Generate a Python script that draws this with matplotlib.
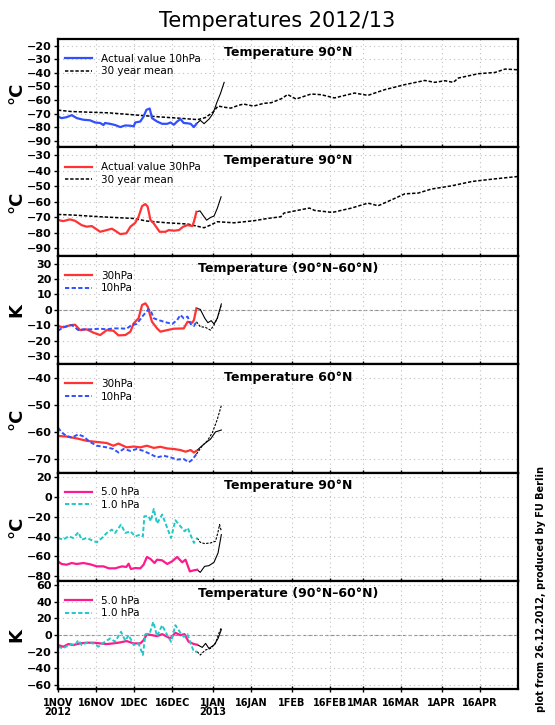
"""
Stratospheric temperatures winter 2012/13, six stacked panels.
"""
import matplotlib
matplotlib.use('Agg')
import matplotlib.pyplot as plt

# x axis: days since 1 Nov 2012
tick_days = [0, 15, 30, 45, 61, 76, 92, 107, 120, 135, 151, 166]
tick_labels = ['1NOV\n2012', '16NOV', '1DEC', '16DEC', '1JAN\n2013', '16JAN',
               '1FEB', '16FEB', '1MAR', '16MAR', '1APR', '16APR']

# ---- panel 1: 10 hPa, 90N ----
p1_obs_d = [0, 1.4, 3.4, 5.4, 7.4, 10, 12.6, 14.6, 16.6, 17.9, 18.5, 20.5, 22.5, 24.5, 26.5,
            28.5, 29.8, 30.4, 32.4, 33.7, 34.8, 36.1, 37, 39, 41, 43, 44.3, 45.6, 46.9,
            48.2, 49.5, 50.9, 52.2, 53.5, 54.5]
p1_obs_v = [-72.2, -73.4, -72.7, -71.2, -73.4, -74.6, -75, -76.6, -77, -78.5, -77, -77.6,
            -78.5, -80, -78.8, -79, -79.5, -76.6, -75.9, -72.2, -67.3, -66.3, -73.4, -75.9,
            -77.6, -77.6, -76.6, -78.3, -75.9, -74.1, -77, -77.2, -77.6, -80, -77.6]
p1_fc_d = [54.5, 56, 57.5, 59.5, 61, 62.5, 64, 65.4]
p1_fc_v = [-77.6, -75, -77.5, -74, -70, -62, -55, -47]
p1_mean_d = [0, 5, 12, 20, 30, 40, 48, 55, 58, 61, 63, 66, 68, 71, 73, 77, 81, 84, 88, 90.4,
             93.7, 99.6, 103.6, 108.8, 116.7, 122, 128.6, 136.5, 144.4, 148.3, 152.3, 155.6,
             157.6, 165.5, 172, 176, 181]
p1_mean_v = [-67.5, -68.5, -69, -69.5, -71, -72.5, -73.5, -74.5, -73, -69, -64.5, -65.5, -66,
             -64, -63, -64.5, -62.5, -62, -59, -56, -59.3, -55.6, -56.1, -58.5, -54.9, -56.6,
             -52.4, -48.7, -45.6, -47, -45.8, -47, -43.8, -40.6, -39.7, -37.2, -37.7]

# ---- panel 2: 30 hPa, 90N ----
p2_obs_d = [0, 2.1, 4.7, 6.7, 9.3, 11.3, 13.3, 16.6, 19.2, 21.2, 22.5, 24.5, 26.9, 28.5,
            30.4, 31.7, 33.1, 34.4, 35.3, 36.4, 37.7, 40, 42.3, 43.6, 45.6, 47.6, 49.3, 51,
            52.9, 53.5, 54.5]
p2_obs_v = [-71.9, -72.6, -71.5, -72.4, -75.2, -76.2, -75.8, -79.5, -78.4, -77.5, -78.8,
            -81, -80.5, -76.2, -73.7, -69.8, -62.9, -61.6, -63.3, -71.9, -74.1, -79.5,
            -79.5, -78.4, -78.8, -78.4, -76.2, -75.2, -75.8, -73, -66.6]
p2_fc_d = [54.5, 55.9, 57.5, 58.5, 60.1, 61.4, 62.7, 64.2]
p2_fc_v = [-66.6, -66, -69.8, -72, -70.2, -69.4, -64.4, -56.9]
p2_mean_d = [0, 6, 16.6, 29.8, 35, 43, 51, 57.5, 60, 62.7, 69.3, 77, 82.5, 87.7, 89, 97, 99,
             101, 108, 115.5, 122, 126, 131.4, 136.5, 141.8, 147, 155, 163, 171, 181]
p2_mean_v = [-68.3, -68.7, -69.8, -70.9, -72.6, -73.7, -74.5, -76.9, -75.2, -73, -73.7,
             -72.4, -70.9, -69.8, -67.4, -64.8, -64.2, -65.7, -67, -64.2, -61, -62.7,
             -58.8, -55, -54.5, -51.9, -49.8, -47, -45.5, -43.8]

# ---- panel 3: anomaly 90N-60N, 30 and 10 hPa ----
p3_30_d = [0, 2.1, 4.7, 6.7, 8.7, 11.3, 14, 16.6, 19.2, 21.8, 23.8, 26.5, 28.5, 29.8, 31.7,
           33.1, 34.4, 35.3, 37, 39, 40.3, 43, 45.6, 49.5, 51, 52.9, 53.5, 54.5]
p3_30_v = [-10.4, -11.2, -9.9, -9.5, -13, -12.5, -14.7, -16.2, -13, -13.4, -16.4, -16.2, -14,
           -8.6, -5.4, 3.2, 4.3, 2.2, -7.6, -11.9, -14, -13, -12.1, -11.9, -7.6, -8.2, -6.5,
           1.1]
p3_30_fc_d = [54.5, 56, 57.8, 59, 60.3, 61.4, 62.7, 64.3]
p3_30_fc_v = [1.1, 0.4, -5.4, -8.2, -6.9, -9, -5.4, 3.9]
p3_10_d = [0, 2.1, 5.4, 8, 10, 12.6, 16.6, 19.2, 21.8, 24.5, 27, 29, 31, 33.7, 35.6, 36.4,
           37.7, 40.3, 43, 45, 46.9, 48.2, 49.5, 51, 52.2, 53.5, 54.5]
p3_10_v = [-13.4, -11.2, -9.7, -13, -12.5, -12.5, -12.1, -12.5, -11.9, -11.9, -12.1, -9.7,
           -9, -3.2, 0.4, 0, -5.4, -6.9, -8.2, -9, -6.5, -3.2, -5.4, -4.3, -9.1, -10.4, -7.6]
p3_10_fc_d = [54.5, 56, 58, 60, 61.4, 62.7, 64.3]
p3_10_fc_v = [-7.6, -10.8, -11.2, -13, -9.7, -5.4, 3.2]

# ---- panel 4: 60N, 30 and 10 hPa ----
p4_30_d = [0, 3.4, 7.4, 11.3, 15.3, 19.2, 21.8, 23.8, 27, 29.8, 32.4, 35, 37.7, 40.3, 43,
           45.6, 48.2, 50.2, 52.2, 53.5, 54.5]
p4_30_v = [-61.5, -61.7, -62.4, -63.3, -63.7, -64.1, -65.1, -64.3, -65.7, -65.4, -65.7,
           -65.1, -65.9, -65.5, -66.1, -66.3, -66.7, -67.3, -66.7, -67.6, -67]
p4_30_fc_d = [54.5, 56, 58, 60, 62, 64.3]
p4_30_fc_v = [-67, -65.7, -64.1, -62.7, -60, -59.3]
p4_10_d = [0, 1.4, 3.4, 5.4, 8, 10, 12.6, 15.3, 19.2, 21.8, 23.8, 25.8, 28.5, 31, 33.7,
           36.4, 39, 41.7, 44.3, 46.9, 49.5, 51.5, 52.9, 54.5]
p4_10_v = [-58.4, -60.2, -61.5, -62.1, -60.9, -61.7, -63.7, -65.1, -65.7, -66.3, -67.6,
           -66.3, -67, -66.3, -67, -68.2, -69.4, -68.8, -69.4, -70.2, -70, -71.2, -70.2, -68.2]
p4_10_fc_d = [54.5, 56.8, 58.8, 60.8, 62.7, 64.3]
p4_10_fc_v = [-68.2, -65.1, -63.3, -60.2, -55.4, -50.2]

# ---- panel 5: 90N, 5 and 1 hPa ----
p5_5_d = [0, 1.4, 3.4, 5.4, 7.4, 10, 12.6, 15.3, 17.9, 20, 22.5, 25.2, 26.9, 27.8, 28.7,
          30.4, 32.4, 33.7, 35, 36.4, 38, 39, 41, 43, 44.9, 46.9, 48.9, 50.2, 51.9, 53.5,
          54.8]
p5_5_v = [-65.1, -67.8, -68.5, -66.8, -67.8, -66.8, -68.1, -70.2, -70.2, -72.2, -72.2,
          -70.2, -70.8, -67.5, -72.9, -71.9, -72.2, -68.5, -60.7, -62.7, -66.8, -63.4,
          -64.1, -67.8, -65.1, -60.7, -66.1, -63.4, -75.3, -74.2, -73.6]
p5_5_fc_d = [54.8, 56, 57.7, 59.4, 61.4, 63, 64.3]
p5_5_fc_v = [-73.6, -76.3, -70.2, -69.5, -66.1, -56.6, -38]
p5_1_d = [0, 2.1, 4.1, 6, 8, 9.3, 11.3, 13.3, 15.3, 17.3, 19.2, 21.2, 22.5, 24.8, 26.5,
          28.5, 30.4, 32.4, 33.4, 34, 35.7, 36.5, 37.7, 39, 41, 43, 44.5, 46.2, 48.2, 49.8,
          51.1, 52.4, 53.5, 54.8]
p5_1_v = [-41.4, -43.1, -39.7, -41.4, -35.6, -43.1, -41.4, -43.7, -45.8, -41.4, -36.3,
          -32.9, -36.3, -27.8, -36.3, -34.6, -39.7, -38, -39.7, -19.3, -19.3, -24.4, -11.9,
          -26.8, -17.6, -31.2, -41.4, -23.4, -29.5, -34.6, -31.2, -39.7, -46.4, -41.4]
p5_1_fc_d = [54.8, 56, 57.7, 60.1, 62, 62.9, 63.6, 64.3]
p5_1_fc_v = [-41.4, -45.8, -47.1, -46.4, -44.7, -36.3, -27.8, -34.6]

# ---- panel 6: anomaly 90N-60N, 5 and 1 hPa ----
p6_5_d = [0, 2.1, 4.1, 6, 8.7, 11.3, 14, 16.6, 19.2, 21.8, 24.5, 27, 29.8, 32.4, 33.7, 35,
          37, 39, 41, 43, 44.2, 46.2, 48.2, 49.8, 51.4, 53.5, 54.8]
p6_5_v = [-11.9, -13.9, -10.7, -11.9, -9.9, -9.1, -9.1, -9.9, -10.7, -9.9, -8.7, -7.1,
          -9.9, -9.9, -6, 1.2, 0, -1.2, 1.2, -2, -4, 2.8, 0, 1.2, -7.9, -10.7, -11.5]
p6_5_fc_d = [54.8, 56.8, 58.1, 59.4, 61.4, 63, 64.3]
p6_5_fc_v = [-11.5, -14.7, -9.9, -15.9, -11.9, -4, 6.7]
p6_1_d = [0, 2.1, 4.7, 6.7, 8, 9.3, 11.3, 14, 15.9, 17.9, 20.5, 22.5, 24.8, 26.5, 27.8,
          29.8, 31.7, 33.4, 34.4, 36.1, 37.5, 39, 41, 43, 44.5, 46.2, 48.2, 49.5, 50.9, 52.2,
          53.5, 54.8]
p6_1_v = [-13.9, -15.9, -10.7, -11.9, -6, -11.9, -9.1, -9.9, -13.9, -9.1, -4, -7.9, 4,
          -6.7, 0, -11.9, -9.9, -23.8, 1.2, 2, 15.9, -1.2, 11.9, 0, -7.9, 11.9, 2.8, -2, 1.2,
          -9.9, -19.8, -19.8]
p6_1_fc_d = [54.8, 56, 58, 60.1, 62, 63.3, 64.3]
p6_1_fc_v = [-19.8, -23.8, -17.9, -15.9, -9.9, 2, 9.1]

blue = '#3050ff'
red = '#ff3333'
pink = '#ff1a8c'
cyan = '#22c8c8'
dash = (0, (2.2, 1.2))

fig, axes = plt.subplots(6, 1, figsize=(5.55, 7.25), dpi=100, sharex=True)
fig.subplots_adjust(left=0.1045, right=0.933, top=0.9462, bottom=0.0492, hspace=0)

panels = [
    dict(title='Temperature 90°N', unit='°C', ylim=(-95, -15), ticks=range(-90, -19, 10), zero=False),
    dict(title='Temperature 90°N', unit='°C', ylim=(-95, -25), ticks=range(-90, -29, 10), zero=False),
    dict(title='Temperature (90°N–60°N)', unit='K', ylim=(-35, 35), ticks=range(-30, 31, 10), zero=True),
    dict(title='Temperature 60°N', unit='°C', ylim=(-75, -35), ticks=range(-70, -39, 10), zero=False),
    dict(title='Temperature 90°N', unit='°C', ylim=(-85, 25), ticks=range(-80, 21, 20), zero=False),
    dict(title='Temperature (90°N–60°N)', unit='K', ylim=(-65, 65), ticks=range(-60, 61, 20), zero=True),
]

for ax, p in zip(axes, panels):
    ax.set_xlim(0, 181)
    ax.set_ylim(*p['ylim'])
    ax.set_yticks(list(p['ticks']))
    ax.set_yticklabels([f'{t:d}'.replace('-', '−') for t in p['ticks']],
                       fontsize=8, fontweight='bold')
    ax.grid(True, color='#c0c0c0', linestyle=(0, (1, 3)), linewidth=0.8)
    if p['zero']:
        ax.axhline(0, color='#909090', linestyle=(0, (3, 2)), linewidth=0.8, zorder=1)
    ax.set_ylabel(p['unit'], fontsize=13, fontweight='bold')
    ax.yaxis.set_label_coords(-0.07, 0.5)
    ax.text(0.5, 0.88, p['title'], transform=ax.transAxes, ha='center', va='center',
            fontsize=9, fontweight='bold')
    for s in ax.spines.values():
        s.set_linewidth(1.6)
    ax.tick_params(axis='y', direction='out', length=3, width=1, pad=1.5)
    ax.tick_params(axis='x', direction='inout', length=5, width=1)

ax1, ax2, ax3, ax4, ax5, ax6 = axes

ax1.plot(p1_mean_d, p1_mean_v, color='black', linestyle=dash, linewidth=1.1, label='30 year mean')
ax1.plot(p1_fc_d, p1_fc_v, color='black', linewidth=0.8)
ax1.plot(p1_obs_d, p1_obs_v, color=blue, linewidth=1.6, label='Actual value 10hPa')

ax2.plot(p2_mean_d, p2_mean_v, color='black', linestyle=dash, linewidth=1.1, label='30 year mean')
ax2.plot(p2_fc_d, p2_fc_v, color='black', linewidth=0.8)
ax2.plot(p2_obs_d, p2_obs_v, color=red, linewidth=1.6, label='Actual value 30hPa')

ax3.plot(p3_30_fc_d, p3_30_fc_v, color='black', linewidth=0.8)
ax3.plot(p3_10_fc_d, p3_10_fc_v, color='black', linewidth=0.8, linestyle=dash)
ax3.plot(p3_30_d, p3_30_v, color=red, linewidth=1.6, label='30hPa')
ax3.plot(p3_10_d, p3_10_v, color=blue, linewidth=1.4, linestyle=dash, label='10hPa')

ax4.plot(p4_30_fc_d, p4_30_fc_v, color='black', linewidth=0.8)
ax4.plot(p4_10_fc_d, p4_10_fc_v, color='black', linewidth=0.8, linestyle=dash)
ax4.plot(p4_30_d, p4_30_v, color=red, linewidth=1.6, label='30hPa')
ax4.plot(p4_10_d, p4_10_v, color=blue, linewidth=1.4, linestyle=dash, label='10hPa')

ax5.plot(p5_5_fc_d, p5_5_fc_v, color='black', linewidth=0.8)
ax5.plot(p5_1_fc_d, p5_1_fc_v, color='black', linewidth=0.8, linestyle=dash)
ax5.plot(p5_5_d, p5_5_v, color=pink, linewidth=1.6, label='5.0 hPa')
ax5.plot(p5_1_d, p5_1_v, color=cyan, linewidth=1.4, linestyle=dash, label='1.0 hPa')

ax6.plot(p6_5_fc_d, p6_5_fc_v, color='black', linewidth=0.8)
ax6.plot(p6_1_fc_d, p6_1_fc_v, color='black', linewidth=0.8, linestyle=dash)
ax6.plot(p6_5_d, p6_5_v, color=pink, linewidth=1.6, label='5.0 hPa')
ax6.plot(p6_1_d, p6_1_v, color=cyan, linewidth=1.4, linestyle=dash, label='1.0 hPa')

for ax in axes:
    h, l = ax.get_legend_handles_labels()
    # keep the coloured entry first, as in the original
    if l and l[0] == '30 year mean':
        h, l = h[::-1], l[::-1]
    ax.legend(h, l, loc='upper left', frameon=False, fontsize=7.5, handlelength=2.6,
              handletextpad=0.8, labelspacing=0.25, borderaxespad=0.3,
              bbox_to_anchor=(0.0, 0.93))

ax6.set_xticks(tick_days)
ax6.set_xticklabels(tick_labels, fontsize=7, fontweight='bold', linespacing=0.95)

fig.suptitle('Temperatures 2012/13', fontsize=15, y=0.985)
fig.text(0.975, 0.018, 'plot from 26.12.2012, produced by FU Berlin', rotation=90,
         ha='center', va='bottom', fontsize=7, fontweight='bold')

plt.savefig('out.png', dpi=100)
